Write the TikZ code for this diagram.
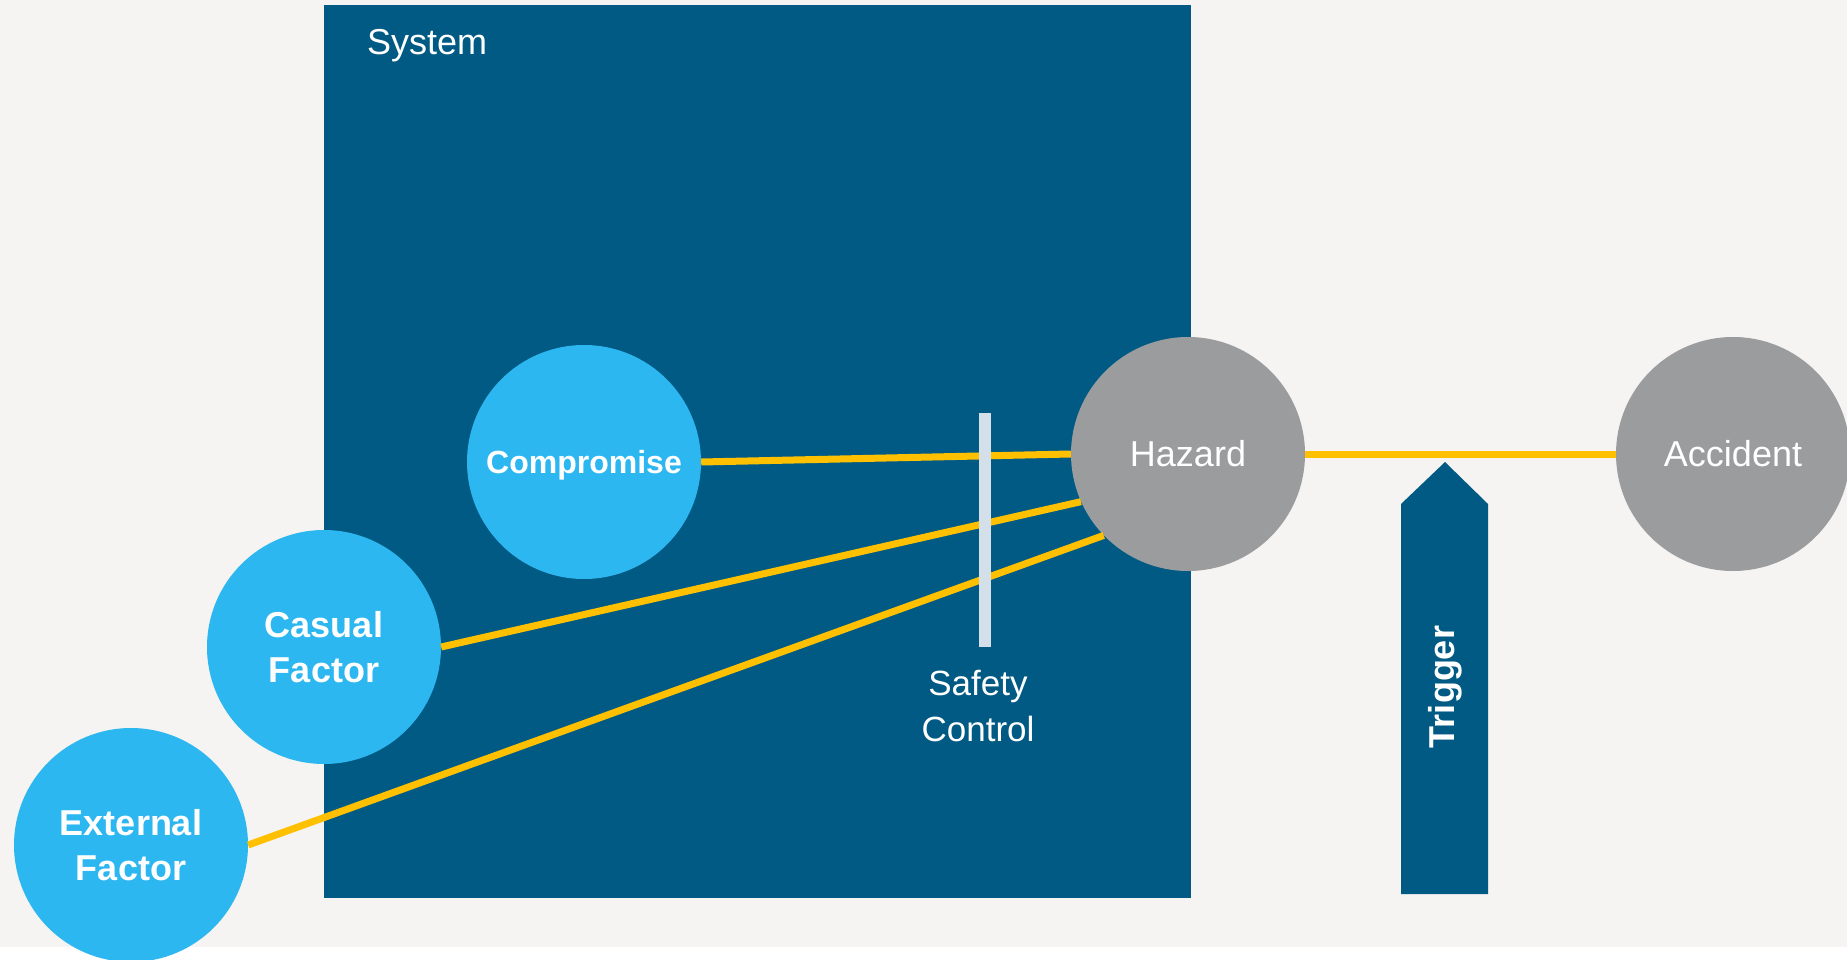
\documentclass[tikz,border=0pt]{standalone}
\usepackage{fontspec}
\setmainfont{Liberation Sans}
\definecolor{bgc}{HTML}{F5F4F2}
\definecolor{sysblue}{HTML}{005A84}
\definecolor{lightblue}{HTML}{2DB7F1}
\definecolor{hazgray}{HTML}{9B9C9E}
\definecolor{linkyellow}{HTML}{FFC000}
\definecolor{barblue}{HTML}{D3DFE9}
\tikzset{
  factor/.style={circle, fill=lightblue, minimum size=234pt, inner sep=0pt, text=white, align=center, font=\bfseries\fontsize{36}{45}\selectfont},
  event/.style={circle, fill=hazgray, minimum size=234pt, inner sep=0pt, text=white, font=\fontsize{36}{44}\selectfont},
  link/.style={draw=linkyellow, line width=7pt},
  whitetext/.style={text=white, inner sep=0pt, align=center},
}
\begin{document}
\begin{tikzpicture}[x=1pt, y=-1pt]
\useasboundingbox (0,0) rectangle (1847,960);
\fill[white] (0,0) rectangle (1847,960);
\fill[bgc] (0,0) rectangle (1847,947);
% system box
\fill[sysblue] (324,5) rectangle (1191,898);
\node[whitetext, anchor=base west, font=\fontsize{36}{44}\selectfont] (systemlabel) at (367,55) {System};
% trigger arrow
\fill[sysblue] (1401,894) -- (1401,504) -- (1445,462) -- (1488,504) -- (1488,894) -- cycle;
\node[whitetext, rotate=90, font=\bfseries\fontsize{36}{44}\selectfont] (trigger) at (1445,687) {Trigger};
% nodes
\node[factor, text depth=0pt, font=\bfseries\fontsize{32}{40}\selectfont] (compromise) at (584,462) {Compromise};
\node[factor] (casual) at (324,647) {Casual\\Factor};
\node[factor] (external) at (131,845) {External\\Factor};
\node[event] (hazard) at (1188,454) {Hazard};
\node[event] (accident) at (1733,454) {Accident};
% links
\draw[link] (compromise.east) -- (hazard.west);
\draw[link] (casual.east) -- (hazard.204.8);
\draw[link] (external.east) -- (hazard.224.8);
\draw[link] (hazard.east) -- (accident.west);
% safety control
\fill[barblue] (978.5,413) rectangle (990.5,647);
\node[whitetext, font=\fontsize{35}{46}\selectfont] (safety) at (978,706) {Safety\\Control};
\end{tikzpicture}
\end{document}
